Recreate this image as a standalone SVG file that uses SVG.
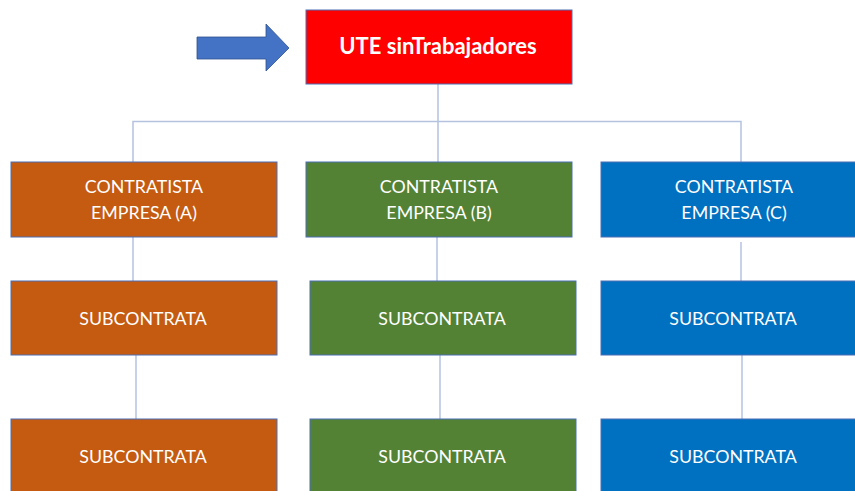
<svg xmlns="http://www.w3.org/2000/svg" width="855" height="491" viewBox="0 0 855 491">
<style>
.box{stroke:#4A6FB5;stroke-width:1}
.a{fill:#C55A11}.b{fill:#548235}.c{fill:#0070C0}
.t{fill:#FFFFFF;font-family:"Lato","Open Sans","Liberation Sans",sans-serif;font-size:17.8px;text-anchor:middle}
.conn{stroke:#B4C2E0;stroke-width:1.5;fill:none}
</style>
<rect width="855" height="491" fill="#FFFFFF"/>
<g id="connectors">
<path class="conn" d="M438,84 V121.5 M133,162 V121.5 H741 V162 M438,121.5 V162"/>
<path class="conn" d="M133,237 V281"/>
<path class="conn" d="M437,237 V281"/>
<path class="conn" d="M741,242 V281"/>
<path class="conn" d="M136,355 V419"/>
<path class="conn" d="M440,355 V419"/>
<path class="conn" d="M742,355 V419"/>
</g>
<g id="arrow">
<polygon points="197,37 266,37 266,24 289,48 266,71 266,59 197,59" fill="#4472C4" stroke="#2F528F" stroke-width="0.8"/>
</g>
<g id="ute">
<rect class="box" x="306" y="10" width="266" height="74" fill="#FF0000"/>
<text class="t" x="438" y="54" style="font-weight:bold;font-size:22px">UTE sinTrabajadores</text>
</g>
<g id="contratistaA">
<rect class="box a" x="11" y="162" width="266" height="75"/>
<text class="t" x="144" y="193">CONTRATISTA</text>
<text class="t" x="144" y="219">EMPRESA (A)</text>
</g>
<g id="contratistaB">
<rect class="box b" x="306" y="162" width="266" height="75"/>
<text class="t" x="439" y="193">CONTRATISTA</text>
<text class="t" x="439" y="219">EMPRESA (B)</text>
</g>
<g id="contratistaC">
<rect class="box c" x="601" y="162" width="260" height="75"/>
<text class="t" x="734" y="193">CONTRATISTA</text>
<text class="t" x="734" y="219">EMPRESA (C)</text>
</g>
<g id="subA1">
<rect class="box a" x="11" y="281" width="266" height="74"/>
<text class="t" x="143" y="325">SUBCONTRATA</text>
</g>
<g id="subB1">
<rect class="box b" x="310" y="281" width="266" height="74"/>
<text class="t" x="442" y="325">SUBCONTRATA</text>
</g>
<g id="subC1">
<rect class="box c" x="601" y="281" width="260" height="74"/>
<text class="t" x="733" y="325">SUBCONTRATA</text>
</g>
<g id="subA2">
<rect class="box a" x="11" y="419" width="266" height="80"/>
<text class="t" x="143" y="463">SUBCONTRATA</text>
</g>
<g id="subB2">
<rect class="box b" x="310" y="419" width="266" height="80"/>
<text class="t" x="442" y="463">SUBCONTRATA</text>
</g>
<g id="subC2">
<rect class="box c" x="601" y="419" width="260" height="80"/>
<text class="t" x="733" y="463">SUBCONTRATA</text>
</g>
</svg>
